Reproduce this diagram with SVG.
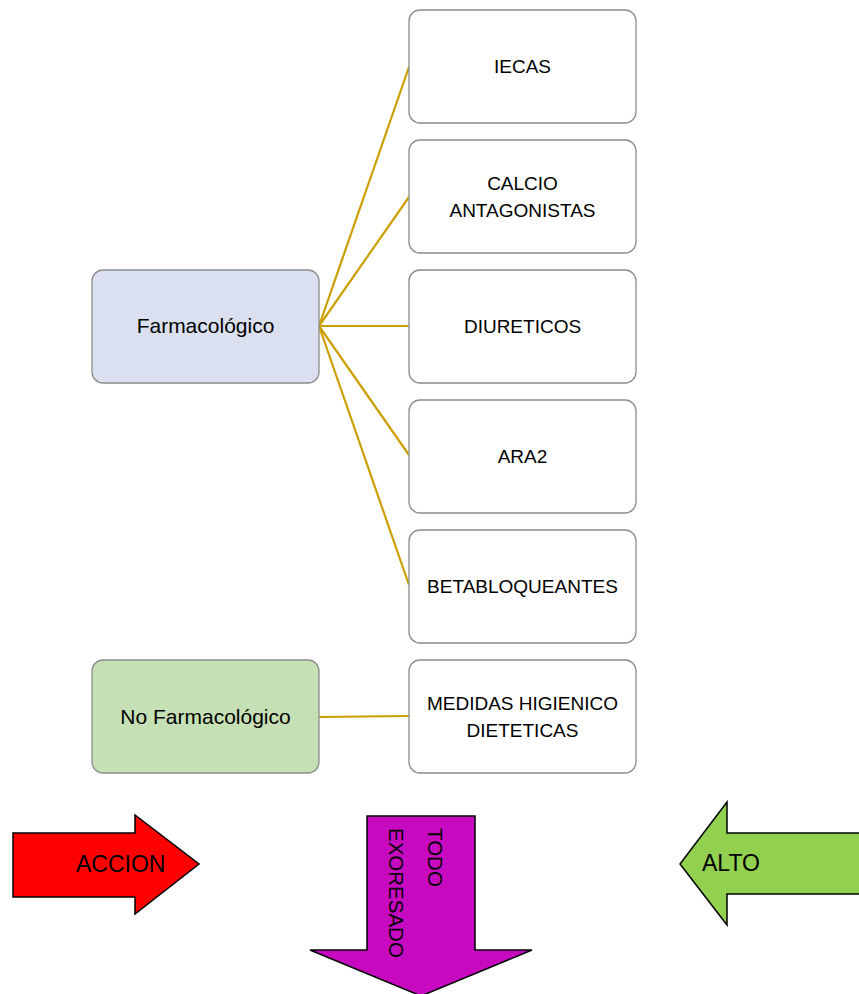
<svg xmlns="http://www.w3.org/2000/svg" width="859" height="994" viewBox="0 0 859 994">
<style>
.box{fill:#FFFFFF;stroke:#8C8C8C;stroke-width:1.3}
.blue{fill:#DAE0EF}
.green{fill:#C5E0B4}
.lbl{font-family:"Liberation Sans",Arial,sans-serif;font-size:19px;fill:#000;text-anchor:middle}
.big{font-family:"Liberation Sans",Arial,sans-serif;font-size:23px;fill:#000}
.con{stroke:#CC9F00;stroke-width:2.2;fill:none}
.arrow{stroke:#000;stroke-width:1.5;stroke-linejoin:miter}
</style>
<rect width="859" height="994" fill="#FFFFFF"/>
<g id="connectors">
<line class="con" x1="319" y1="326" x2="409" y2="67"/>
<line class="con" x1="319" y1="326" x2="409" y2="197"/>
<line class="con" x1="319" y1="326" x2="409" y2="326"/>
<line class="con" x1="319" y1="326" x2="409" y2="455"/>
<line class="con" x1="319" y1="326" x2="409" y2="585"/>
<line class="con" x1="319" y1="717" x2="409" y2="716"/>
</g>
<g id="farmacologico">
<rect class="box blue" x="92" y="270" width="227" height="113" rx="11"/>
<text class="lbl" x="205.5" y="333" style="font-size:21px">Farmacológico</text>
</g>
<g id="no-farmacologico">
<rect class="box green" x="92" y="660" width="227" height="113" rx="11"/>
<text class="lbl" x="205.5" y="724" style="font-size:21px">No Farmacológico</text>
</g>
<g id="iecas">
<rect class="box" x="409" y="10" width="227" height="113" rx="11"/>
<text class="lbl" x="522.5" y="73">IECAS</text>
</g>
<g id="calcio">
<rect class="box" x="409" y="140" width="227" height="113" rx="11"/>
<text class="lbl" x="522.5" y="190">CALCIO</text>
<text class="lbl" x="522.5" y="217">ANTAGONISTAS</text>
</g>
<g id="diureticos">
<rect class="box" x="409" y="270" width="227" height="113" rx="11"/>
<text class="lbl" x="522.5" y="333">DIURETICOS</text>
</g>
<g id="ara2">
<rect class="box" x="409" y="400" width="227" height="113" rx="11"/>
<text class="lbl" x="522.5" y="463">ARA2</text>
</g>
<g id="betabloqueantes">
<rect class="box" x="409" y="530" width="227" height="113" rx="11"/>
<text class="lbl" x="522.5" y="593">BETABLOQUEANTES</text>
</g>
<g id="medidas">
<rect class="box" x="409" y="660" width="227" height="113" rx="11"/>
<text class="lbl" x="522.5" y="710">MEDIDAS HIGIENICO</text>
<text class="lbl" x="522.5" y="737">DIETETICAS</text>
</g>
<g id="accion">
<polygon class="arrow" fill="#FF0000" points="13,833 135,833 135,815 199,864 135,914 135,897 13,897"/>
<text class="big" x="76" y="872">ACCION</text>
</g>
<g id="todo-exoresado">
<polygon class="arrow" fill="#C70AC0" points="367,816 475,816 475,950 532,950 421,996 310,950 367,950"/>
<g transform="rotate(90)">
<text class="big" style="font-size:20.5px" x="828" y="-428">TODO</text>
<text class="big" style="font-size:20.5px" x="828" y="-389">EXORESADO</text>
</g>
</g>
<g id="alto">
<polygon class="arrow" fill="#92D050" points="862,833 727,833 727,802 680,864 727,925 727,894 862,894"/>
<text class="big" x="702" y="871">ALTO</text>
</g>
</svg>
